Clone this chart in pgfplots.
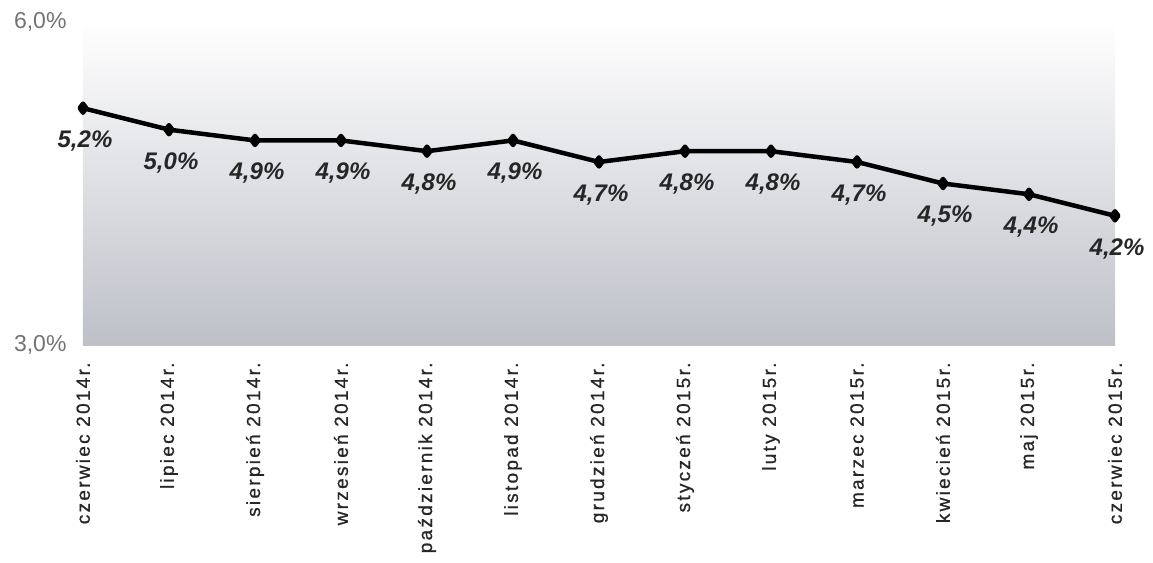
\documentclass[border=0pt]{standalone}
\usepackage{fontspec}
\setmainfont{Liberation Sans}
\usepackage{pgfplots}
\pgfplotsset{compat=1.18}

\definecolor{bgbottom}{RGB}{190,192,200}
\definecolor{bgmid}{RGB}{236,237,241}
\newcommand\lb[1]{\rule{0pt}{1pt}#1\rule{14pt}{0pt}}

\begin{document}
\begin{tikzpicture}
\begin{axis}[
    scale only axis,
    width=1032pt, height=323pt,
    xmin=0, xmax=12,
    ymin=3, ymax=6,
    axis line style={draw=none},
    tick style={draw=none},
    axis background/.style={shade, top color=white, middle color=bgmid, bottom color=bgbottom},
    xtick={0,...,12},
    xticklabels={\lb{czerwiec 2014r.}, \lb{lipiec 2014r.}, \lb{sierpień 2014r.}, \lb{wrzesień 2014r.},
        \lb{październik 2014r.}, \lb{listopad 2014r.}, \lb{grudzień 2014r.}, \lb{styczeń 2015r.},
        \lb{luty 2015r.}, \lb{marzec 2015r.}, \lb{kwiecień 2015r.}, \lb{maj 2015r.}, \lb{czerwiec 2015r.}},
    xticklabel style={rotate=90, anchor=east,
        font=\fontsize{19}{21}\selectfont\addfontfeature{LetterSpace=12,FakeBold=0.8}, text=black!85},
    ytick={3,6},
    yticklabel={\pgfmathprintnumber[fixed,fixed zerofill,precision=1,use comma,assume math mode=true]{\tick}\%},
    yticklabel style={font=\fontsize{23}{25}\selectfont, text=black!55},
    yticklabel shift=13pt,
    clip=false,
    nodes near coords={\pgfmathprintnumber[fixed,fixed zerofill,precision=1,use comma,assume math mode=true]{\pgfplotspointmeta}\%},
    every node near coord/.append style={anchor=center, yshift=-33pt, xshift=2pt,
        font=\fontsize{24}{28}\selectfont\bfseries\itshape, text=black!85},
]
\addplot[black, line width=4.5pt, line join=round,
    mark=diamond*, mark size=4.5pt, mark options={solid, fill=black}] coordinates {
    (0,5.2) (1,5.0) (2,4.9) (3,4.9) (4,4.8) (5,4.9) (6,4.7)
    (7,4.8) (8,4.8) (9,4.7) (10,4.5) (11,4.4) (12,4.2)
};
\end{axis}
\pgfresetboundingbox
\path (current axis.south west) ++(-83pt,-217pt) rectangle ++(1153pt,562pt);
\end{tikzpicture}
\end{document}
